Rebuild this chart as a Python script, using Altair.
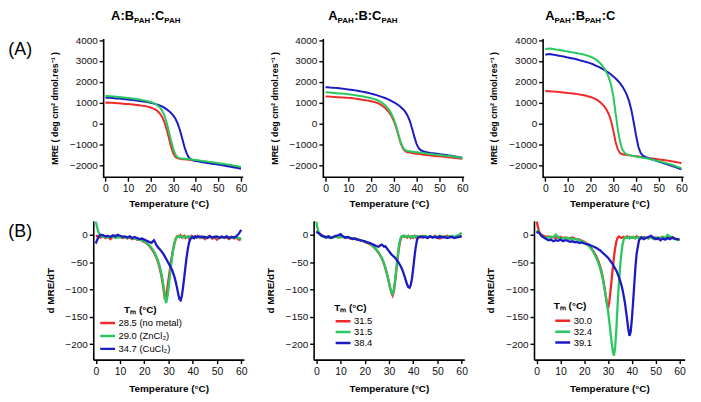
import altair as alt
import pandas as pd

# ---------------- data ----------------
KEYS = ["r", "g", "b"]
COLORS = ["#f02a2a", "#27c95f", "#1b1bc4"]

T_A = list(range(0, 61))

A1_red = [1000, 1010, 1000, 995, 985, 975, 968, 960, 950, 942,
          932, 922, 912, 900, 888, 875, 860, 843, 825, 800,
          770, 730, 675, 600, 495, 340, 100, -240, -660, -1080,
          -1420, -1600, -1665, -1690, -1705, -1715, -1725, -1738, -1750, -1765,
          -1780, -1795, -1810, -1825, -1840, -1855, -1870, -1885, -1900, -1915,
          -1930, -1945, -1960, -1975, -1990, -2005, -2025, -2045, -2065, -2085, -2110]
A1_green = [1330, 1320, 1312, 1302, 1292, 1282, 1268, 1256, 1246, 1236,
            1225, 1212, 1200, 1186, 1170, 1152, 1132, 1110, 1086, 1060,
            1030, 992, 945, 880, 785, 640, 420, 90, -340, -800,
            -1200, -1490, -1615, -1658, -1675, -1685, -1695, -1705, -1716, -1730,
            -1745, -1760, -1775, -1790, -1805, -1820, -1835, -1850, -1865, -1880,
            -1895, -1910, -1925, -1943, -1960, -1975, -1995, -2015, -2035, -2055, -2080]
A1_blue = [1250, 1240, 1235, 1225, 1215, 1205, 1195, 1185, 1175, 1165,
           1150, 1140, 1125, 1115, 1100, 1085, 1070, 1055, 1040, 1020,
           1000, 975, 945, 910, 870, 820, 760, 690, 610, 510,
           390, 230, 0, -320, -720, -1120, -1440, -1640, -1720, -1760,
           -1790, -1810, -1830, -1850, -1870, -1890, -1905, -1920, -1935, -1950,
           -1965, -1985, -2000, -2020, -2040, -2060, -2080, -2100, -2120, -2140, -2165]

A2_red = [1300, 1295, 1290, 1280, 1275, 1265, 1260, 1250, 1245, 1240,
          1230, 1220, 1210, 1195, 1180, 1165, 1145, 1130, 1110, 1090,
          1070, 1045, 1015, 975, 920, 850, 760, 650, 520, 350,
          110, -200, -580, -950, -1200, -1320, -1370, -1390, -1410, -1430,
          -1445, -1460, -1475, -1490, -1505, -1520, -1530, -1540, -1550, -1560,
          -1570, -1580, -1590, -1600, -1610, -1620, -1635, -1645, -1660, -1675, -1690]
A2_green = [1500, 1490, 1485, 1475, 1465, 1455, 1445, 1435, 1425, 1415,
            1405, 1390, 1375, 1360, 1345, 1325, 1305, 1285, 1265, 1240,
            1215, 1185, 1150, 1105, 1050, 980, 885, 770, 630, 450,
            200, -130, -520, -900, -1150, -1270, -1310, -1330, -1345, -1360,
            -1375, -1390, -1400, -1415, -1430, -1445, -1455, -1465, -1480, -1490,
            -1500, -1515, -1525, -1540, -1550, -1565, -1580, -1595, -1610, -1625, -1640]
A2_blue = [1740, 1735, 1725, 1720, 1710, 1700, 1690, 1675, 1665, 1650,
           1635, 1620, 1605, 1590, 1570, 1550, 1530, 1510, 1485, 1460,
           1435, 1405, 1375, 1340, 1305, 1265, 1225, 1180, 1130, 1080,
           1020, 955, 880, 795, 690, 560, 380, 120, -250, -650,
           -1000, -1200, -1290, -1330, -1360, -1385, -1405, -1420, -1435, -1450,
           -1465, -1480, -1495, -1510, -1525, -1540, -1560, -1580, -1600, -1620, -1640]

A3_red = [1550, 1560, 1550, 1540, 1530, 1520, 1510, 1500, 1490, 1480,
          1465, 1455, 1440, 1425, 1410, 1395, 1375, 1355, 1330, 1300,
          1270, 1230, 1180, 1120, 1040, 940, 820, 660, 450, 120,
          -350, -880, -1250, -1420, -1470, -1490, -1505, -1520, -1535, -1550,
          -1565, -1580, -1595, -1610, -1625, -1640, -1655, -1670, -1685, -1700,
          -1715, -1730, -1745, -1760, -1775, -1790, -1810, -1830, -1850, -1870, -1900]
A3_green = [3560, 3580, 3590, 3580, 3560, 3540, 3530, 3510, 3490, 3470,
            3450, 3430, 3410, 3390, 3370, 3350, 3330, 3300, 3270, 3240,
            3200, 3150, 3090, 3010, 2910, 2790, 2640, 2450, 2200, 1850,
            1300, 500, -300, -900, -1250, -1410, -1480, -1510, -1535, -1555,
            -1575, -1595, -1615, -1635, -1655, -1675, -1700, -1725, -1750, -1775,
            -1800, -1830, -1860, -1890, -1920, -1950, -1985, -2020, -2060, -2100, -2140]
A3_blue = [3300, 3320, 3330, 3310, 3290, 3270, 3250, 3230, 3210, 3190,
           3160, 3140, 3120, 3100, 3070, 3040, 3010, 2980, 2950, 2920,
           2880, 2840, 2790, 2740, 2690, 2630, 2570, 2500, 2430, 2350,
           2260, 2160, 2050, 1920, 1770, 1590, 1360, 1050, 620, 50,
           -560, -1100, -1400, -1540, -1600, -1640, -1680, -1715, -1750, -1785,
           -1820, -1855, -1890, -1925, -1960, -1995, -2030, -2070, -2110, -2150, -2190]

# derivative curves: sampled every 0.5 C at the ends and through the transitions
T_B = ([0, 0.5, 1, 1.5, 2] + list(range(3, 24))
       + [23.5 + 0.5 * i for i in range(38)] + list(range(43, 61)))

B1_red = [-3, -2, -4, -3, -5,
          -2, -6, -3, -8, -4, -2, -5, -3, -6, -4, -7, -5, -8, -6, -9, -8, -11, -13, -16, -20, -26,
          -29, -33, -37, -42, -48, -55, -64, -74, -86, -102, -118, -112, -98, -82, -66, -50,
          -36, -24, -14, -7, -3, -2, -4, -1, -5, -3, -2, -6, -4, -3, -7, -5, -2, -4, -6, -3, -5, -2,
          -6, -3, -8, -4, -2, -7, -5, -9, -4, -3, -6, -5, -8, -4, -7, -5, -9, -8]
B1_green = [24, 14, 6, 1, -2,
            -4, -3, -5, -4, -3, -6, -4, -5, -3, -5, -6, -4, -7, -6, -8, -9, -10, -12, -15, -19, -24,
            -27, -31, -35, -40, -46, -52, -60, -70, -82, -96, -112, -125, -115, -97, -78, -58,
            -40, -26, -15, -8, -4, -3, -2, -4, -3, -5, -4, -3, -5, -4, -3, -5, -4, -6, -4, -3, -5, -4,
            -5, -3, -4, -6, -4, -5, -3, -5, -6, -4, -5, -3, -5, -6, -4, -5, -6, -7]
B1_blue = [-16, -10, -5, -2, 0,
           -1, -3, -2, -4, -1, -3, 0, -2, -4, -3, -5, -3, -6, -4, -6, -8, -7, -9, -11, -13, -15,
           -12, -10, -14, -19, -22, -25, -27, -30, -33, -36, -40, -44, -48, -52, -56, -60,
           -65, -71, -78, -87, -97, -108, -118, -120, -112, -96, -77, -58, -40, -25, -14, -8, -5, -4, -6, -3, -5, -4,
           -3, -5, -4, -6, -3, -5, -4, -3, -6, -4, -5, -3, -6, -4, -5, -3, 2, 9]

B2_red = [6, 5, 3, 2, 0,
          -3, -5, -3, -6, -4, -3, -5, -2, -4, -6, -5, -7, -6, -8, -9, -10, -11, -13, -15, -17, -20,
          -22, -24, -26, -29, -32, -35, -39, -43, -48, -54, -61, -69, -78, -88, -98, -106,
          -111, -104, -88, -68, -47, -28, -14, -6, -3, -2, -4, -3, -5, -2, -4, -6, -3, -5, -2, -4, -7, -3,
          -5, -2, -4, -6, -3, -5, -2, -4, -7, -3, -5, -2, -4, -3, -5, -3, -2, -3]
B2_green = [24, 12, 4, 0, -2,
            -4, -3, -6, -4, -5, -3, -4, -5, -3, -5, -4, -6, -7, -7, -8, -10, -11, -12, -14, -16, -19,
            -21, -23, -26, -28, -31, -34, -38, -42, -47, -53, -60, -68, -77, -87, -97, -104,
            -108, -100, -84, -63, -42, -24, -11, -4, -2, -3, -2, -4, -3, -2, -4, -3, -5, -3, -4, -2, -3, -4,
            -3, -4, -2, -4, -3, -5, -3, -4, -2, -4, -3, -5, -3, -2, -4, -2, 0, 4]
B2_blue = [5, 4, 3, 1, -1,
           -3, -5, -3, -6, -4, -2, -1, 1, -3, -5, -4, -6, -8, -7, -9, -10, -11, -12, -14, -15, -17,
           -18, -19, -20, -21, -22, -21, -19, -18, -20, -22, -21, -24, -27, -30, -33, -36,
           -38, -40, -42, -45, -48, -51, -55, -59, -64, -70, -77, -84, -91, -96, -97, -92, -80, -62, -42, -24, -11, -5,
           -3, -5, -4, -6, -3, -5, -4, -6, -3, -5, -4, -6, -5, -4, -6, -5, -4, -3]

B3_red = [24, 15, 6, 2, 0,
          -2, -4, -3, -5, -4, -6, -5, -4, -6, -5, -7, -6, -5, -7, -8, -9, -11, -13, -16, -20, -25,
          -28, -31, -35, -39, -44, -49, -56, -63, -72, -83, -97, -112, -126, -135, -124, -104,
          -82, -60, -40, -24, -12, -6, -3, -4, -6, -5, -4, -6, -5, -3, -5, -4, -6, -5, -4, -6, -5, -3,
          -5, -6, -4, -5, -7, -4, -6, -5, -8, -5, -4, -7, -5, -6, -4, -7, -8, -9]
B3_green = [8, 6, 4, 1, -2,
            -4, -6, -5, -3, -5, 0, -4, -8, -6, -7, -5, -8, -7, -9, -8, -10, -12, -14, -17, -21, -26,
            -29, -33, -37, -42, -47, -53, -59, -67, -76, -86, -98, -110, -124, -140, -158, -177,
            -197, -213, -221, -205, -172, -130, -92, -62, -38, -20, -10, -6, -4, -6, -5, -7, -5, -4, -6, -5, -7, -5,
            -6, -4, -7, -5, -6, -4, -8, -6, -5, -7, -4, -6, 0, -3, -6, -8, -9, -10]
B3_blue = [3, 5, 4, 1, -2,
           -5, -8, -10, -9, -12, -10, -11, -9, -12, -10, -11, -13, -12, -14, -13, -15, -14, -16, -17, -18, -20,
           -21, -22, -23, -24, -25, -27, -28, -30, -32, -34, -36, -38, -40, -42, -45, -48,
           -51, -54, -58, -62, -66, -71, -77, -83, -90, -99, -110, -122, -138, -155, -172, -185, -178, -155, -125, -92, -60, -35,
           -10, -5, -8, -6, -4, -2, -5, -8, -6, -10, -7, -9, -6, -8, -5, -7, -8, -9]

B1_LABELS = ["28.5 (no metal)", "29.0 (ZnCl₂)", "34.7 (CuCl₂)"]
B2_LABELS = ["31.5", "31.5", "38.4"]
B3_LABELS = ["30.0", "32.4", "39.1"]

X_TICKS = [0, 10, 20, 30, 40, 50, 60]
Y_TICKS_A = [-2000, -1000, 0, 1000, 2000, 3000, 4000]
Y_TICKS_B = [-200, -150, -100, -50, 0]

TITLE_A1 = [("A:B", False), ("PAH", True), (":C", False), ("PAH", True)]
TITLE_A2 = [("A", False), ("PAH", True), (":B:C", False), ("PAH", True)]
TITLE_A3 = [("A", False), ("PAH", True), (":B", False), ("PAH", True), (":C", False)]

# ---------------- layout / style ----------------
FONT = "Liberation Sans"
W, H = 152, 140
XDOM = {"A1": [-5.40, 61.32], "A2": [-5.22, 60.87], "A3": [-4.98, 61.44],
        "B1": [-1.06, 61.11], "B2": [-1.105, 61.1], "B3": [-1.125, 62.2]}
YSHIFT_A = {"A1": 10, "A2": 9.3, "A3": 8.7}
XLINE_A = {"A1": [-1.01, 61.0], "A2": [-1.18, 60.8], "A3": [-1.18, 61.0]}
YDOM_A = [-2570, 4076]
YDOM_B = [-228.5, 25.4]
TITLE_X = {"A1": 18.0, "A2": 14.7, "A3": 11.4}
LEG = {"B1": dict(x=5.5, y=84.8, clip=12.7, tpad=2, anchor="middle"),
       "B2": dict(x=20.7, y=82.5, clip=9.4, tpad=4, anchor="start"),
       "B3": dict(x=20.0, y=81.0, clip=9.6, tpad=5, anchor="start")}

BOLD_W = {"A": 0.722, "B": 0.722, "C": 0.722, "P": 0.667, "H": 0.722, ":": 0.333}


def text_layer(txt, x, y, size, bold=False):
    return alt.Chart(pd.DataFrame({"s": [txt]})).mark_text(
        align="left", baseline="alphabetic", fontSize=size, font=FONT,
        fontWeight="bold" if bold else "normal", color="black"
    ).encode(text="s:N", x=alt.value(x), y=alt.value(y))


def label_expr(labels):
    return ("datum.value == 'r' ? '%s' : datum.value == 'g' ? '%s' : '%s'"
            % (labels[0], labels[1], labels[2]))


def panel(name, T, series, labels=None, title=None, tag=None):
    for s in series:
        if len(s) != len(T):
            raise ValueError("%s length %d != %d" % (name, len(s), len(T)))
    recs = []
    for key, vals in zip(KEYS, series):
        for t, v in zip(T, vals):
            recs.append({"T": t, "v": v, "k": key})
    df = pd.DataFrame(recs)
    is_a = name.startswith("A")
    x_axis = alt.Axis(values=X_TICKS, title="Temperature (°C)", grid=False, format="d",
                      domain=not is_a, domainColor="black", domainWidth=1.6,
                      tickColor="black", tickWidth=1.4, tickSize=4,
                      labelFont=FONT, labelFontSize=10.5, labelColor="#111",
                      labelPadding=2 if is_a else 3, labelFlush=False,
                      titleFont=FONT, titleFontSize=10, titleFontWeight="bold",
                      titleColor="black", titlePadding=5 if is_a else 7)
    y_axis = alt.Axis(values=Y_TICKS_A if is_a else Y_TICKS_B, format="d",
                      title="MRE ( deg cm² dmol.res⁻¹ )" if is_a else "d MRE/dT",
                      grid=False, offset=-YSHIFT_A[name] if is_a else 0,
                      domainColor="black", domainWidth=1.6,
                      tickColor="black", tickWidth=1.4, tickSize=4,
                      labelFont=FONT, labelFontSize=10, labelColor="#111",
                      labelPadding=2, labelFlush=False,
                      titleFont=FONT, titleFontSize=9 if is_a else 10,
                      titleFontWeight="bold", titleColor="black", titlePadding=10)
    xenc = alt.X("T:Q", scale=alt.Scale(domain=XDOM[name], nice=False, zero=False), axis=x_axis)
    yenc = alt.Y("v:Q", scale=alt.Scale(domain=YDOM_A if is_a else YDOM_B, nice=False, zero=False),
                 axis=y_axis)
    if labels is None:
        legend = None
    else:
        lg = LEG[name]
        legend = alt.Legend(title="Tₘ (°C)", orient="none", legendX=lg["x"], legendY=lg["y"],
                            symbolType="stroke", symbolSize=225, symbolStrokeWidth=2.5,
                            clipHeight=lg["clip"], rowPadding=0, padding=0,
                            labelFont=FONT, labelFontSize=9.5, labelColor="black",
                            labelOffset=2, labelLimit=200, labelExpr=label_expr(labels),
                            titleFont=FONT, titleFontSize=10, titleFontWeight="bold",
                            titleColor="black", titleAnchor=lg["anchor"],
                            titlePadding=lg["tpad"])
    cenc = alt.Color("k:N", scale=alt.Scale(domain=KEYS, range=COLORS), legend=legend)
    order = ["r", "b", "g"] if is_a else ["r", "g", "b"]
    layers = []
    for key in order:
        layers.append(alt.Chart(df).transform_filter(alt.datum.k == key)
                      .mark_line(strokeWidth=2.0 if is_a else 2.3, clip=True)
                      .encode(x=xenc, y=yenc, color=cenc))
    if is_a:
        rule_df = pd.DataFrame({"T": [XLINE_A[name][0]], "T2": [XLINE_A[name][1]]})
        layers.append(alt.Chart(rule_df).mark_rule(color="black", strokeWidth=1.6)
                      .encode(x=xenc, x2="T2:Q", y=alt.value(H)))
    if title is not None:
        x = TITLE_X[name]
        for txt, sub in title:
            size = 8 if sub else 13
            layers.append(text_layer(txt, x, -15.7 if sub else -18.7, size, bold=True))
            x += sum(BOLD_W[c] for c in txt) * size
    if tag is not None:
        layers.append(text_layer(tag[0], -85.7, tag[1], 18))
    return alt.layer(*layers).properties(width=W, height=H)


pA1 = panel("A1", T_A, [A1_red, A1_green, A1_blue], title=TITLE_A1, tag=("(A)", 17))
pA2 = panel("A2", T_A, [A2_red, A2_green, A2_blue], title=TITLE_A2)
pA3 = panel("A3", T_A, [A3_red, A3_green, A3_blue], title=TITLE_A3)
pB1 = panel("B1", T_B, [B1_red, B1_green, B1_blue], labels=B1_LABELS, tag=("(B)", 16))
pB2 = panel("B2", T_B, [B2_red, B2_green, B2_blue], labels=B2_LABELS)
pB3 = panel("B3", T_B, [B3_red, B3_green, B3_blue], labels=B3_LABELS)

chart = alt.concat(pA1, pA2, pA3, pB1, pB2, pB3, columns=3,
                   spacing={"row": 44, "column": 70.3}, bounds="flush")
chart = chart.resolve_scale(x="independent", y="independent", color="independent")
chart = chart.resolve_legend(color="independent")
chart = chart.properties(padding={"left": 0, "top": 0, "right": 5, "bottom": 5},
                         background="white")
chart = chart.configure_view(stroke=None)

chart.save("out.html", embed_options={"renderer": "svg", "actions": False})
